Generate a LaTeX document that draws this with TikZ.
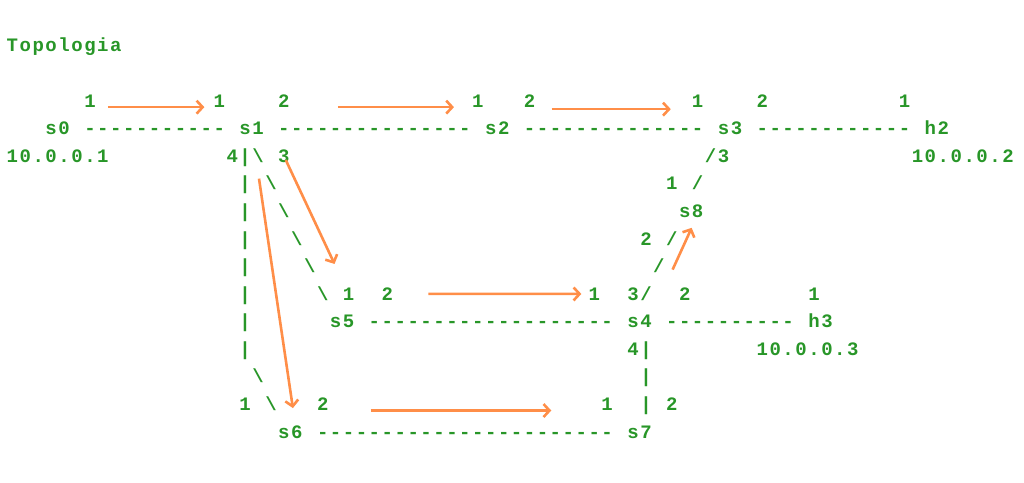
\documentclass[tikz,border=0pt]{standalone}
\usepackage{fontspec}
\setmonofont{Liberation Mono}[LetterSpace=8.05]
\usepackage{xcolor}
\definecolor{termgreen}{RGB}{40,150,40}
\definecolor{floworange}{RGB}{255,142,72}
\usepackage{tikz}
\usetikzlibrary{arrows.meta}

\begin{document}
\begin{tikzpicture}[x=12.93pt, y=-27.58pt,
                    txt/.style={anchor=base west, inner sep=0pt, xshift=1.5pt, text=termgreen,
                    font=\ttfamily\bfseries\fontsize{19}{24}\selectfont},
                    flow/.style={draw=floworange, line width=2.6pt, line join=round,
                    -{Straight Barb[length=6pt, width=13pt, line width=2.6pt]}},
                ]
                \useasboundingbox (-0.387,-1.885) rectangle (78.81,15.627);
                \node[txt] (title) at (0,0) {Topologia};

                % upper line: s0 - s1 - s2 - s3 - h2
                \node[txt] (p0_1) at (6,2) {1};  \node[txt] (p1_1) at (16,2) {1};
                \node[txt] (p1_2) at (21,2) {2}; \node[txt] (p2_1) at (36,2) {1};
                \node[txt] (p2_2) at (40,2) {2}; \node[txt] (p3_1) at (53,2) {1};
                \node[txt] (p3_2) at (58,2) {2}; \node[txt] (ph2_1) at (69,2) {1};
                \node[txt] (s0) at (3,3) {s0};
                \node[txt] (l0_1) at (6,3) {-----------};
                \node[txt] (s1) at (18,3) {s1};
                \node[txt] (l1_2) at (21,3) {---------------};
                \node[txt] (s2) at (37,3) {s2};
                \node[txt] (l2_3) at (40,3) {--------------};
                \node[txt] (s3) at (55,3) {s3};
                \node[txt] (l3_h2) at (58,3) {------------};
                \node[txt] (h2) at (71,3) {h2};
                \node[txt] (ip_s0) at (0,4) {10.0.0.1};
                \node[txt] (p1_4) at (17,4) {4}; \node[txt] (p1_3) at (21,4) {3};
                \node[txt] (l3_8_a) at (54,4) {/}; \node[txt] (p3_3) at (55,4) {3};
                \node[txt] (ip_h2) at (70,4) {10.0.0.2};

                % s1 down to s6 and s5
                \node[txt] (l1_6_a) at (18,4) {|}; \node[txt] (l1_5_a) at (19,4) {\textbackslash};
                \node[txt] (l1_6_b) at (18,5) {|}; \node[txt] (l1_5_b) at (20,5) {\textbackslash};
                \node[txt] (l1_6_c) at (18,6) {|}; \node[txt] (l1_5_c) at (21,6) {\textbackslash};
                \node[txt] (l1_6_d) at (18,7) {|}; \node[txt] (l1_5_d) at (22,7) {\textbackslash};
                \node[txt] (l1_6_e) at (18,8) {|}; \node[txt] (l1_5_e) at (23,8) {\textbackslash};
                \node[txt] (l1_6_f) at (18,9) {|}; \node[txt] (l1_5_f) at (24,9) {\textbackslash};
                \node[txt] (l1_6_g) at (18,10) {|};
                \node[txt] (l1_6_h) at (18,11) {|};
                \node[txt] (l1_6_i) at (19,12) {\textbackslash};
                \node[txt] (l1_6_j) at (20,13) {\textbackslash};

                % s3 down to s8 and s4
                \node[txt] (p8_1) at (51,5) {1}; \node[txt] (l3_8_b) at (53,5) {/};
                \node[txt] (s8) at (52,6) {s8};
                \node[txt] (p8_2) at (49,7) {2}; \node[txt] (l8_4_a) at (51,7) {/};
                \node[txt] (l8_4_b) at (50,8) {/};

                % middle line: s5 - s4 - h3
                \node[txt] (p5_1) at (26,9) {1}; \node[txt] (p5_2) at (29,9) {2};
                \node[txt] (p4_1) at (45,9) {1}; \node[txt] (p4_3) at (48,9) {3};
                \node[txt] (l8_4_c) at (49,9) {/}; \node[txt] (p4_2) at (52,9) {2};
                \node[txt] (ph3_1) at (62,9) {1};
                \node[txt] (s5) at (25,10) {s5};
                \node[txt] (l5_4) at (28,10) {-------------------};
                \node[txt] (s4) at (48,10) {s4};
                \node[txt] (l4_h3) at (51,10) {----------};
                \node[txt] (h3) at (62,10) {h3};
                \node[txt] (p4_4) at (48,11) {4}; \node[txt] (l4_7_a) at (49,11) {|};
                \node[txt] (ip_h3) at (58,11) {10.0.0.3};
                \node[txt] (l4_7_b) at (49,12) {|};

                % lower line: s6 - s7
                \node[txt] (p6_1) at (18,13) {1}; \node[txt] (p6_2) at (24,13) {2};
                \node[txt] (p7_1) at (46,13) {1}; \node[txt] (l4_7_c) at (49,13) {|};
                \node[txt] (p7_2) at (51,13) {2};
                \node[txt] (s6) at (21,14) {s6};
                \node[txt] (l6_7) at (24,14) {-----------------------};
                \node[txt] (s7) at (48,14) {s7};

                \draw[flow, shorten <=12pt, shorten >=9pt] (p0_1.base east) -- (p1_1.base west);
                \draw[flow, shorten <=48pt, shorten >=18pt] (p1_2.base east) -- (p2_1.base west);
                \draw[flow, shorten <=16pt, shorten >=21pt] ([yshift=-2pt]p2_2.base east) -- ([yshift=-2pt]p3_1.base west);
                \draw[flow, shorten <=-3pt, shorten >=26pt] (p1_3) -- (p5_1);
                \draw[flow, shorten <=44pt, shorten >=24pt] (s1) -- ([xshift=6pt]s6.center);
                \draw[flow, shorten <=35pt, shorten >=7pt] (p5_2.east) -- (p4_1.west);
                \draw[flow, shorten <=42pt, shorten >=50pt] (p6_2.base east) -- (p7_1.base west);
                \draw[flow, shorten <=50pt, shorten >=11pt] (s4.north east) -- ([xshift=5pt]s8.south);
            \end{tikzpicture}
\end{document}
